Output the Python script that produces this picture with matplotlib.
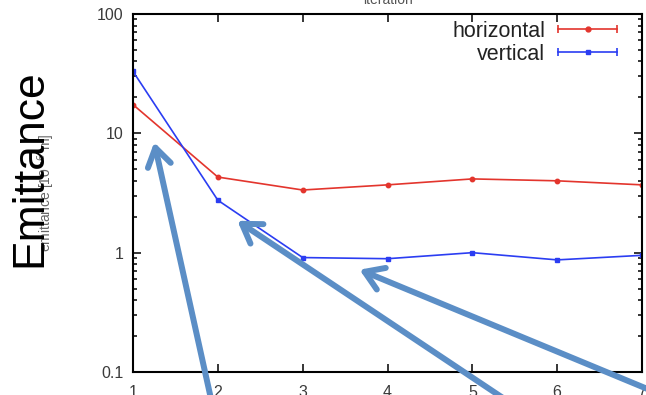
import matplotlib.pyplot as plt
from matplotlib.legend_handler import HandlerLine2D, HandlerTuple
from matplotlib.lines import Line2D
from matplotlib.ticker import LogLocator, NullFormatter

ITERATION = [1, 2, 3, 4, 5, 6, 7]
HORIZONTAL = [17.4, 4.3, 3.35, 3.7, 4.15, 4.0, 3.7]
VERTICAL = [33.0, 2.75, 0.91, 0.89, 1.0, 0.87, 0.95]

X_TICKS = [1, 2, 3, 4, 5, 6, 7]
Y_TICKS = [0.1, 1, 10, 100]
Y_NAMES = ['0.1', '1', '10', '100']

# arrow tips in data coords, tails in figure fraction
ARROW_TIPS = [(1.25, 8.4), (2.23, 1.85), (3.67, 0.72)]
ARROW_TAILS = [(0.328, -0.02), (0.79, -0.02), (1.01, 0.01)]

RED = '#e3352d'
BLUE = '#2b3df2'
ARROW_C = '#5b8ec6'
TICK_C = '#3a3a3a'

plt.rcParams['font.family'] = ['Liberation Sans', 'DejaVu Sans']


def main():
  fig = plt.figure(figsize=(6.46, 3.95), dpi=100)
  ax = fig.add_axes([0.2059, 0.0582, 0.7879, 0.9064])

  ax.plot(ITERATION, HORIZONTAL, color=RED, lw=1.2, marker='o',
          ms=3.2, mec=RED, mfc=RED)
  ax.plot(ITERATION, VERTICAL, color=BLUE, lw=1.2, marker='s',
          ms=3.2, mec=BLUE, mfc=BLUE)

  ax.set_yscale('log')
  ax.set_xlim(1, 7)
  ax.set_ylim(0.1, 100)
  ax.set_xticks(X_TICKS)
  ax.set_yticks(Y_TICKS)
  ax.set_yticklabels(Y_NAMES)
  ax.yaxis.set_minor_locator(LogLocator(base=10, subs=range(2, 10)))
  ax.yaxis.set_minor_formatter(NullFormatter())
  ax.tick_params(which='both', direction='in', top=True, right=True,
                 colors='black', labelcolor=TICK_C, labelsize=11.5, width=1.1)
  ax.tick_params(which='major', length=6)
  ax.tick_params(which='minor', length=3)
  ax.tick_params(axis='x', pad=9)
  ax.tick_params(axis='y', pad=7)
  for sp in ax.spines.values():
    sp.set_linewidth(1.5)

  ax.set_title('iteration', fontsize=10, color='#555555', pad=7)
  ax.set_ylabel('emittance [10$^{-6}$ m]', fontsize=10, color='#666666')
  ax.yaxis.set_label_coords(-0.149, 0.5)

  # legend entries: line with end caps plus a centre marker, like gnuplot
  leg_items = []
  leg_map = {tuple: HandlerTuple(ndivide=1)}
  for c, m in [(RED, 'o'), (BLUE, 's')]:
    cap = Line2D([], [], color=c, lw=1.2, marker='|', ms=6, mew=1.2)
    dot = Line2D([], [], color=c, lw=0, marker=m, ms=3.5)
    leg_map[cap] = HandlerLine2D(numpoints=2)
    leg_map[dot] = HandlerLine2D(numpoints=1)
    leg_items.append((cap, dot))
  leg = ax.legend(leg_items, ['horizontal', 'vertical'], loc='upper right',
                  handler_map=leg_map, markerfirst=False, frameon=False,
                  fontsize=15.5, handlelength=3.35, handletextpad=0.3,
                  labelspacing=0.1, borderaxespad=0.0,
                  bbox_to_anchor=(0.981, 1.005))
  for t in leg.get_texts():
    t.set_color('#222222')

  fig.text(0.047, 0.575, 'Emittance', rotation=90, fontsize=32,
           ha='center', va='center', color='black')

  for tip, tail in zip(ARROW_TIPS, ARROW_TAILS):
    ax.annotate('', xy=tip, xycoords='data', xytext=tail,
                textcoords='figure fraction', annotation_clip=False,
                arrowprops=dict(arrowstyle='->,head_length=0.65,head_width=0.42',
                                color=ARROW_C, lw=4.3, mutation_scale=20,
                                shrinkA=0, shrinkB=0))

  fig.savefig('out.png', dpi=100)


if __name__ == '__main__':
  main()
